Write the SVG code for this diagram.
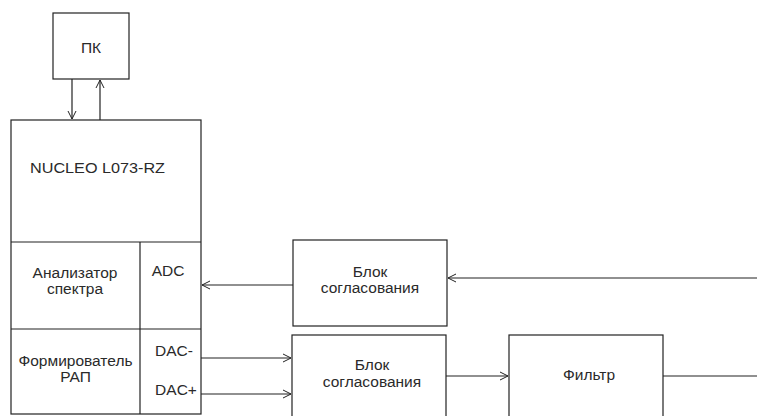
<svg xmlns="http://www.w3.org/2000/svg" width="757" height="416" viewBox="0 0 757 416">
<style>
.b{fill:#fff;stroke:#222;stroke-width:1.2}
.l{fill:none;stroke:#222;stroke-width:1.2}
text{font-family:"Liberation Sans",Arial,sans-serif;font-size:15.5px;fill:#2a2a2a}
.m{text-anchor:middle}
</style>
<defs>
<marker id="a" markerWidth="10" markerHeight="10" refX="9" refY="5" orient="auto" markerUnits="userSpaceOnUse">
<path d="M1,1 L9,5 L1,9" fill="none" stroke="#222" stroke-width="1"/>
</marker>
</defs>
<rect width="757" height="416" fill="#fff"/>
<g id="pk"><rect class="b" x="53" y="13" width="76" height="66"/><text class="m" x="91" y="53">ПК</text></g>
<g id="nucleo">
<rect class="b" x="11" y="120" width="190" height="294"/>
<line class="l" x1="11" y1="242" x2="201" y2="242"/>
<line class="l" x1="11" y1="329" x2="201" y2="329"/>
<line class="l" x1="140" y1="242" x2="140" y2="414"/>
<text x="30" y="173" textLength="135" lengthAdjust="spacingAndGlyphs">NUCLEO L073-RZ</text>
</g>
<g id="analyzer"><text class="m" x="75" y="278">Анализатор</text><text class="m" x="75" y="294">спектра</text></g>
<g id="adc"><text class="m" x="168" y="276">ADC</text></g>
<g id="former"><text class="m" x="75.5" y="366">Формирователь</text><text class="m" x="75.5" y="382">РАП</text></g>
<g id="dac"><text class="m" x="174" y="356">DAC-</text><text class="m" x="176" y="395">DAC+</text></g>
<g id="blok1"><rect class="b" x="293" y="240" width="154" height="86"/><text class="m" x="370" y="277">Блок</text><text class="m" x="370" y="293">согласования</text></g>
<g id="blok2"><rect class="b" x="292" y="335" width="154" height="90"/><text class="m" x="372" y="370">Блок</text><text class="m" x="372" y="387">согласования</text></g>
<g id="filter"><rect class="b" x="509" y="335" width="154" height="90"/><text class="m" x="589" y="380">Фильтр</text></g>
<g id="connectors">
<line class="l" x1="72" y1="79" x2="72" y2="119" marker-end="url(#a)"/>
<line class="l" x1="100" y1="120" x2="100" y2="80" marker-end="url(#a)"/>
<line class="l" x1="293" y1="285" x2="202" y2="285" marker-end="url(#a)"/>
<line class="l" x1="757" y1="278" x2="448" y2="278" marker-end="url(#a)"/>
<line class="l" x1="201" y1="358" x2="291" y2="358" marker-end="url(#a)"/>
<line class="l" x1="201" y1="394" x2="291" y2="394" marker-end="url(#a)"/>
<line class="l" x1="446" y1="376" x2="508" y2="376" marker-end="url(#a)"/>
<line class="l" x1="663" y1="376" x2="757" y2="376"/>
</g>
</svg>
